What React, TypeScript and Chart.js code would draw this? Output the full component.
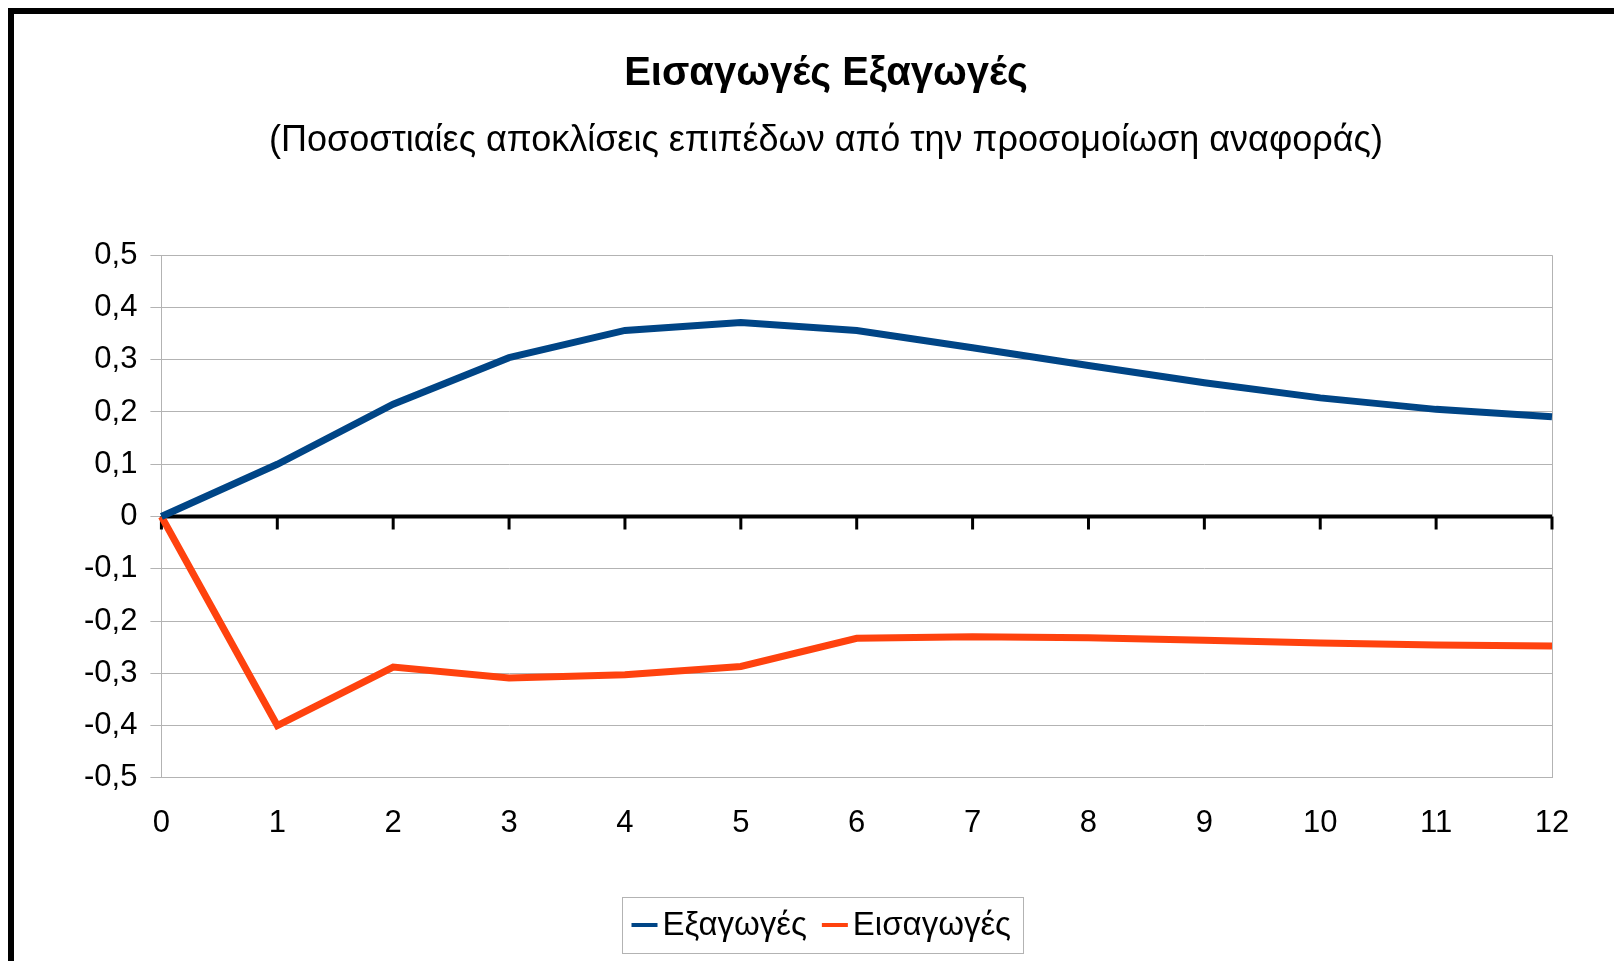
import React, { useEffect, useRef } from 'react';
import { Chart, registerables } from 'chart.js';

Chart.register(...registerables);

const FONT = '"Liberation Sans", Arial, sans-serif';

const periods = ['0', '1', '2', '3', '4', '5', '6', '7', '8', '9', '10', '11', '12'];
const exportsValues = [0, 0.1, 0.215, 0.304, 0.356, 0.371, 0.356, 0.323, 0.289, 0.256, 0.227, 0.205, 0.191];
const importsValues = [0, -0.4, -0.288, -0.309, -0.303, -0.287, -0.233, -0.23, -0.232, -0.237, -0.242, -0.246, -0.248];
const seriesNames = ['Εξαγωγές', 'Εισαγωγές'];
const seriesColors = ['#004586', '#ff420e'];
const chartTitle = 'Εισαγωγές Εξαγωγές';
const chartSubtitle = '(Ποσοστιαίες αποκλίσεις επιπέδων από την προσομοίωση αναφοράς)';
const yMin = -0.5;
const yMax = 0.5;
const yStep = 0.1;

const GRID = '#b3b3b3';

const zeroAxisPlugin = {
  id: 'zeroAxis',
  beforeDatasetsDraw(chart: any) {
    const { ctx, chartArea, scales } = chart;
    const y0 = scales.y.getPixelForValue(0);
    ctx.save();
    ctx.strokeStyle = '#000';
    ctx.lineWidth = 4;
    ctx.beginPath();
    ctx.moveTo(chartArea.left, y0);
    ctx.lineTo(chartArea.right, y0);
    ctx.stroke();
    ctx.lineWidth = 3;
    for (let i = 0; i < periods.length; i++) {
      const x = scales.x.getPixelForValue(i);
      ctx.beginPath();
      ctx.moveTo(x, y0);
      ctx.lineTo(x, y0 + 13);
      ctx.stroke();
    }
    ctx.restore();
  },
};

const boxedLegendPlugin = {
  id: 'boxedLegend',
  afterDraw(chart: any) {
    const ctx = chart.ctx;
    ctx.save();
    ctx.font = `33px ${FONT}`;
    const sampleW = 26;
    const sampleGap = 5;
    const itemGap = 15;
    const padL = 9;
    const padR = 12;
    const items = chart.data.datasets.map((ds: any) => ({
      label: ds.label,
      color: ds.borderColor,
      w: ctx.measureText(ds.label).width,
    }));
    let total = padL + padR;
    items.forEach((it: any, i: number) => {
      total += sampleW + sampleGap + it.w + (i > 0 ? itemGap : 0);
    });
    const cx = chart.width / 2 + 8;
    const boxH = 56;
    const bottom = chart.height - 8;
    const top = bottom - boxH;
    const left = Math.round(cx - total / 2) + 0.5;
    ctx.strokeStyle = GRID;
    ctx.lineWidth = 1;
    ctx.strokeRect(left, top + 0.5, Math.round(total), boxH);
    const cy = top + boxH / 2;
    let x = left + padL;
    ctx.textBaseline = 'middle';
    ctx.textAlign = 'left';
    items.forEach((it: any, i: number) => {
      if (i > 0) x += itemGap;
      ctx.fillStyle = it.color;
      ctx.fillRect(x, cy - 2, sampleW, 4);
      x += sampleW + sampleGap;
      ctx.fillStyle = '#000';
      ctx.fillText(it.label, x, cy + 1);
      x += it.w;
    });
    ctx.restore();
  },
};

function formatTick(value: number) {
  const v = Math.round(value * 10) / 10;
  if (v === 0) return '0';
  return v.toFixed(1).replace('.', ',');
}

export default function App() {
  const canvasRef = useRef<HTMLCanvasElement | null>(null);

  useEffect(() => {
    if (!canvasRef.current) return;
    const chart = new Chart(canvasRef.current, {
      type: 'line',
      data: {
        labels: periods,
        datasets: [
          {
            label: seriesNames[0],
            data: exportsValues,
            borderColor: seriesColors[0],
            backgroundColor: seriesColors[0],
            borderWidth: 7,
            pointRadius: 0,
            tension: 0,
            fill: false,
          },
          {
            label: seriesNames[1],
            data: importsValues,
            borderColor: seriesColors[1],
            backgroundColor: seriesColors[1],
            borderWidth: 7,
            pointRadius: 0,
            tension: 0,
            fill: false,
          },
        ],
      },
      options: {
        animation: false,
        responsive: false,
        maintainAspectRatio: false,
        layout: { padding: { top: 0, left: 57, right: 33, bottom: 92 } },
        plugins: {
          legend: { display: false },
          tooltip: { enabled: false },
          title: {
            display: true,
            text: chartTitle,
            color: '#000',
            font: { family: FONT, size: 40, weight: 'bold' },
            padding: { top: 36, bottom: 0 },
          },
          subtitle: {
            display: true,
            text: chartSubtitle,
            color: '#000',
            font: { family: FONT, size: 36, weight: 'normal' },
            padding: { top: 21, bottom: 93 },
          },
        },
        scales: {
          x: {
            type: 'category',
            offset: false,
            border: { display: true, color: GRID, width: 1 },
            grid: {
              drawTicks: false,
              color: (c: any) => (c.index === periods.length - 1 ? GRID : 'rgba(0,0,0,0)'),
              lineWidth: 1,
            },
            ticks: {
              color: '#000',
              font: { family: FONT, size: 31 },
              padding: 27,
              maxRotation: 0,
              autoSkip: false,
            },
          },
          y: {
            min: yMin,
            max: yMax,
            border: { display: true, color: GRID, width: 1 },
            grid: {
              color: GRID,
              lineWidth: 1,
              drawTicks: true,
              tickLength: 11,
            },
            ticks: {
              stepSize: yStep,
              color: '#000',
              font: { family: FONT, size: 31 },
              padding: 13,
              callback: (value: any) => formatTick(Number(value)),
            },
          },
          ySpacer: {
            type: 'linear',
            position: 'right',
            display: true,
            min: yMin,
            max: yMax,
            border: { display: false },
            grid: { display: false, drawTicks: false },
            ticks: { display: false },
            afterFit: (s: any) => {
              s.width = 29;
            },
          },
        },
      },
      plugins: [zeroAxisPlugin, boxedLegendPlugin],
    });
    return () => {
      chart.destroy();
    };
  }, []);

  return (
    <div
      style={{
        position: 'fixed',
        left: 0,
        top: 0,
        width: '100vw',
        height: '100vh',
        overflow: 'hidden',
        background: '#fff',
      }}
    >
      <div
        style={{
          position: 'absolute',
          left: 8,
          top: 8,
          width: 1700,
          height: 1100,
          border: '6px solid #000',
          background: '#fff',
        }}
      >
        <canvas
          ref={canvasRef}
          width={1600}
          height={947}
          style={{ position: 'absolute', left: 0, top: 0, width: 1600, height: 947 }}
        />
      </div>
    </div>
  );
}
